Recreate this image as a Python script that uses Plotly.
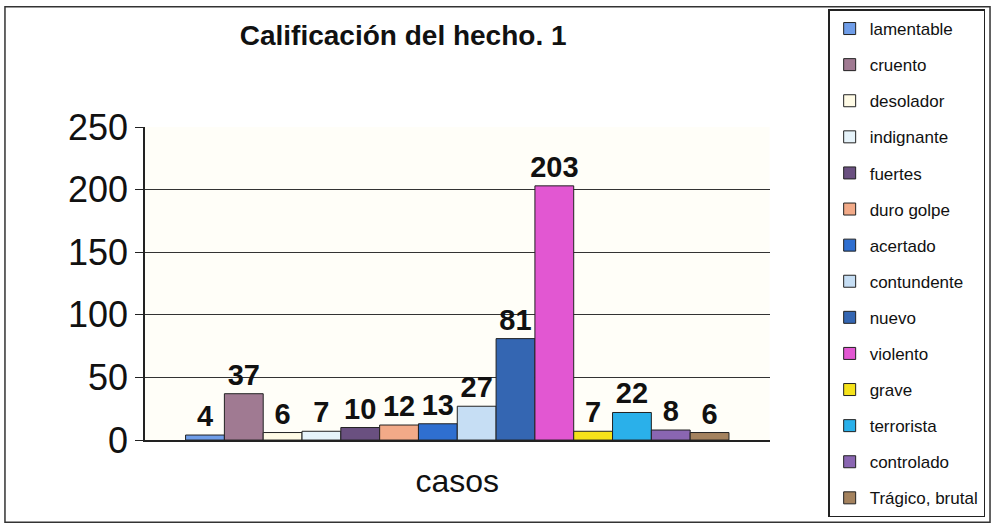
import plotly.graph_objects as go

categories = ["casos"]
series_names = ["lamentable", "cruento", "desolador", "indignante", "fuertes",
                "duro golpe", "acertado", "contundente", "nuevo", "violento",
                "grave", "terrorista", "controlado", "Trágico, brutal"]
series_values = [4, 37, 6, 7, 10, 12, 13, 27, 81, 203, 7, 22, 8, 6]
series_colors = ["#6f9de8", "#a07a92", "#fffbe6", "#e6f3fa", "#6a5080",
                 "#f2aa88", "#2f6fd0", "#c6def4", "#3466b2", "#e257d2",
                 "#f5e21a", "#2ab0ea", "#8a66b2", "#a4825e"]
y_ticks = [0, 50, 100, 150, 200, 250]

FONT = "Liberation Sans, Arial, sans-serif"

fig = go.Figure()
for i, (name, val, col) in enumerate(zip(series_names, series_values, series_colors)):
    fig.add_trace(go.Bar(
        x=categories, y=[val], name=name, legendgroup=f"g{i}",
        marker=dict(color=col, line=dict(color="#222222", width=1)),
        text=[str(val)], textposition="outside", cliponaxis=False,
        constraintext="none",
        textfont=dict(family=FONT, size=29, color="#111111", weight="bold"),
    ))

fig.update_layout(
    width=993, height=527,
    margin=dict(l=0, r=0, t=0, b=0, autoexpand=False),
    paper_bgcolor="white", plot_bgcolor="#fffef8",
    barmode="group", bargap=0.13, bargroupgap=0,
    font=dict(family=FONT, color="#111111"),
    title=dict(text="<b>Calificación del hecho. 1</b>", x=0.406, xanchor="center",
               y=0.934, yanchor="middle", font=dict(size=28, family=FONT)),
    showlegend=True,
    legend=dict(x=0.834, xanchor="left", y=0.982, yanchor="top",
                bordercolor="#222222", borderwidth=1.5, bgcolor="white",
                font=dict(size=17, family=FONT), tracegroupgap=11,
                traceorder="grouped", itemwidth=30),
    xaxis=dict(domain=[0.146, 0.775], showline=True, linecolor="#222222", linewidth=2,
               tickfont=dict(size=32, family=FONT), ticks="", ticklabelstandoff=12),
    yaxis=dict(domain=[0.165, 0.759], range=[0, 250], tickvals=y_ticks,
               showgrid=True, gridcolor="#333333", gridwidth=1,
               showline=True, linecolor="#222222", linewidth=1.5,
               ticks="outside", ticklen=8, tickcolor="#222222",
               tickfont=dict(size=36, family=FONT), zeroline=False),
    shapes=[dict(type="rect", xref="paper", yref="paper", x0=0.005, x1=0.997,
                 y0=0.009, y1=0.987, line=dict(color="#333333", width=1.5))],
)

fig.write_html("out.html", config={"displayModeBar": False},
               post_script="document.body.style.margin='0px';")
